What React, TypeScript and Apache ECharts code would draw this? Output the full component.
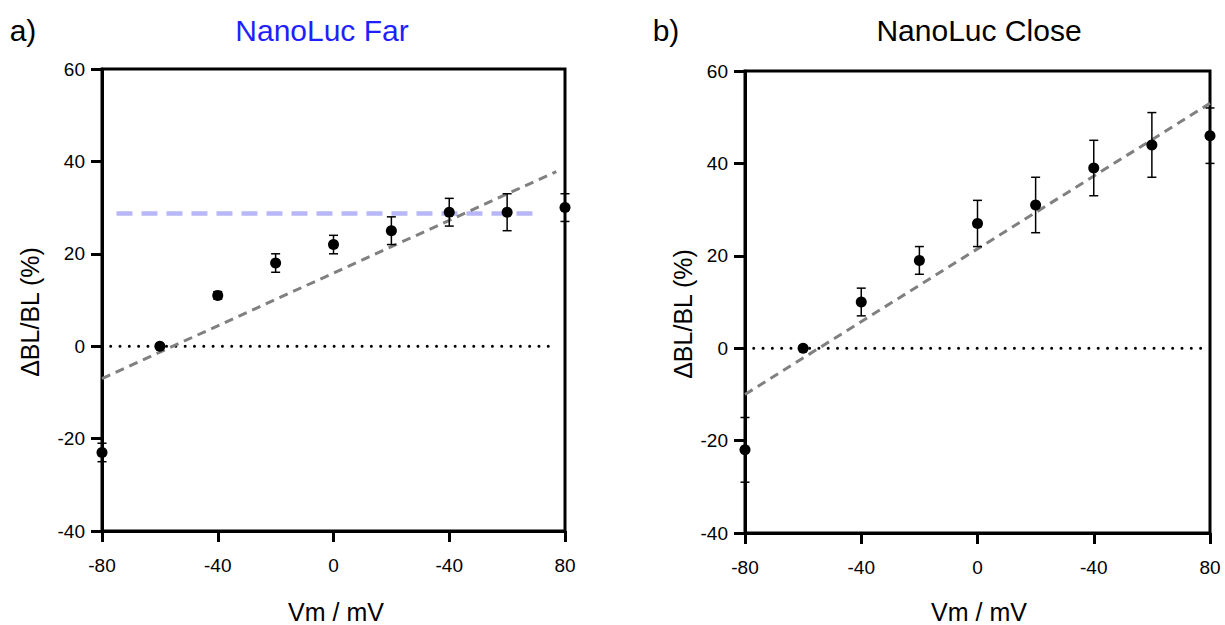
import React, { useEffect, useRef } from "react";
import * as echarts from "echarts";

// Membrane potential steps (mV)
const voltages = [-80, -60, -40, -20, 0, 20, 40, 60, 80];

// NanoLuc Far: mean ΔBL/BL (%) and error
const farMean = [-23, 0, 11, 18, 22, 25, 29, 29, 30];
const farErr = [2, 0, 0.8, 2, 2, 3, 3, 4, 3];

// NanoLuc Close: mean ΔBL/BL (%) and error
const closeMean = [-22, 0, 10, 19, 27, 31, 39, 44, 46];
const closeErr = [7, 0, 3, 3, 5, 6, 6, 7, 6];

// Linear fits (end points)
const farFitX = [-80, 77];
const farFitY = [-7, 37.8];
const closeFitX = [-80, 80];
const closeFitY = [-10, 53];

// Plateau level for NanoLuc Far
const farPlateauX = [-75, 71];
const farPlateauY = 28.7;

// Zero reference line extent
const zeroLineX = [-77, 77];

// Axis tick labels
const xTickValues = [-80, -40, 0, 40, 80];
const xTickLabels = ["-80", "-40", "0", "-40", "80"];

const panelTitles = ["NanoLuc Far", "NanoLuc Close"];
const panelLetters = ["a)", "b)"];
const xName = "Vm / mV";
const yName = "ΔBL/BL (%)";

const FONT = "'Liberation Sans', Arial, Helvetica, sans-serif";

export default function App() {
  const ref = useRef<HTMLDivElement>(null);

  useEffect(() => {
    if (!ref.current) return;
    const chart = echarts.init(ref.current, undefined, { renderer: "svg" });

    const grids = [
      { left: 102, top: 69, width: 463, height: 462 },
      { left: 745, top: 71, width: 465, height: 462 },
    ];

    const xAxisBase = (gi: number) => ({
      type: "value",
      gridIndex: gi,
      min: -80,
      max: 80,
      interval: 40,
      splitLine: { show: false },
      axisLine: { show: true, onZero: false, lineStyle: { color: "#000", width: 3 } },
      axisTick: { show: true, length: 11, lineStyle: { color: "#000", width: 3 } },
      axisLabel: {
        margin: 25,
        fontSize: 19,
        color: "#000",
        fontFamily: FONT,
        formatter: (v: number) => {
          const i = xTickValues.indexOf(v);
          return i >= 0 ? xTickLabels[i] : "";
        },
      },
    });

    const yAxisBase = (gi: number) => ({
      type: "value",
      gridIndex: gi,
      min: -40,
      max: 60,
      interval: 20,
      splitLine: { show: false },
      axisLine: { show: true, onZero: false, lineStyle: { color: "#000", width: 3 } },
      axisTick: { show: true, length: 11, lineStyle: { color: "#000", width: 3 } },
      axisLabel: { margin: 17, fontSize: 19, color: "#000", fontFamily: FONT },
    });

    const errorBars = (gi: number, mean: number[], err: number[]) => ({
      type: "custom",
      xAxisIndex: gi,
      yAxisIndex: gi,
      z: 4,
      data: voltages.map((v, i) => [v, mean[i] - err[i], mean[i] + err[i]]),
      renderItem: (_params: any, api: any) => {
        const x = api.value(0);
        const top = api.coord([x, api.value(2)]);
        const bot = api.coord([x, api.value(1)]);
        const hw = 4.5;
        const style = { stroke: "#000", lineWidth: 1.5, fill: null };
        return {
          type: "group",
          children: [
            { type: "line", shape: { x1: top[0], y1: top[1], x2: bot[0], y2: bot[1] }, style },
            { type: "line", shape: { x1: top[0] - hw, y1: top[1], x2: top[0] + hw, y2: top[1] }, style },
            { type: "line", shape: { x1: bot[0] - hw, y1: bot[1], x2: bot[0] + hw, y2: bot[1] }, style },
          ],
        };
      },
    });

    const points = (gi: number, mean: number[]) => ({
      type: "scatter",
      xAxisIndex: gi,
      yAxisIndex: gi,
      z: 5,
      symbol: "circle",
      symbolSize: 11,
      itemStyle: { color: "#000", opacity: 1 },
      data: voltages.map((v, i) => [v, mean[i]]),
    });

    const zeroLine = (gi: number) => ({
      type: "line",
      xAxisIndex: gi,
      yAxisIndex: gi,
      z: 2,
      symbol: "none",
      lineStyle: { color: "#000", width: 3, type: [0.01, 9.3], cap: "round" },
      data: zeroLineX.map((x) => [x, 0]),
    });

    const fitLine = (gi: number, xs: number[], ys: number[]) => ({
      type: "line",
      xAxisIndex: gi,
      yAxisIndex: gi,
      z: 3,
      symbol: "none",
      lineStyle: { color: "#808080", width: 3, type: [9, 6] },
      data: xs.map((x, i) => [x, ys[i]]),
    });

    const textEl = (
      text: string,
      x: number,
      y: number,
      fontSize: number,
      fill = "#000",
      rotation = 0
    ) => ({
      type: "text",
      x,
      y,
      rotation,
      style: {
        text,
        fill,
        font: `${fontSize}px ${FONT}`,
        align: "center",
        verticalAlign: "middle",
        textAlign: "center",
        textVerticalAlign: "middle",
      },
    });

    chart.setOption({
      animation: false,
      backgroundColor: "#fff",
      grid: grids.map((g) => ({
        ...g,
        show: true,
        borderColor: "#000",
        borderWidth: 3,
        backgroundColor: "transparent",
      })),
      xAxis: [xAxisBase(0), xAxisBase(1)],
      yAxis: [yAxisBase(0), yAxisBase(1)],
      series: [
        zeroLine(0),
        {
          type: "line",
          xAxisIndex: 0,
          yAxisIndex: 0,
          z: 3,
          symbol: "none",
          lineStyle: { color: "#b8b8f8", width: 4.5, type: [16, 9] },
          data: farPlateauX.map((x) => [x, farPlateauY]),
        },
        fitLine(0, farFitX, farFitY),
        errorBars(0, farMean, farErr),
        points(0, farMean),
        zeroLine(1),
        fitLine(1, closeFitX, closeFitY),
        errorBars(1, closeMean, closeErr),
        points(1, closeMean),
      ],
      graphic: [
        textEl(panelLetters[0], 23, 30, 30),
        textEl(panelLetters[1], 666, 30, 30),
        textEl(panelTitles[0], 322, 30, 30, "#1f1fff"),
        textEl(panelTitles[1], 979, 30, 30),
        textEl(xName, 336, 612, 25),
        textEl(xName, 979, 612, 25),
        textEl(yName, 30, 312, 25, "#000", Math.PI / 2),
        textEl(yName, 683, 314, 25, "#000", Math.PI / 2),
      ],
    });

    return () => chart.dispose();
  }, []);

  return (
    <div
      ref={ref}
      style={{ position: "fixed", left: 0, top: 0, width: 1225, height: 625 }}
    />
  );
}
